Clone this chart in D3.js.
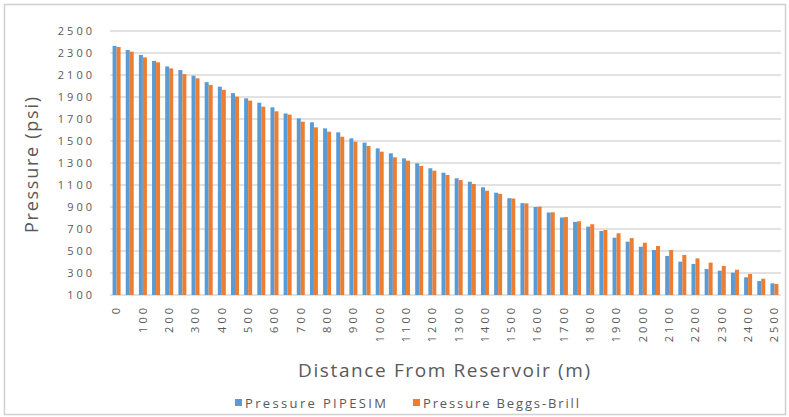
<!DOCTYPE html>
<html>
<head>
<meta charset="utf-8">
<script src="https://cdn.jsdelivr.net/npm/d3@7"></script>
<style>
  html, body { margin: 0; padding: 0; background: #fff; }
  svg { display: block; }
  text { font-family: "Open Sans", "Liberation Sans", sans-serif; fill: #595959; }
</style>
</head>
<body>
<svg id="chart" width="789" height="417"></svg>
<script>
// Distance along the pipeline (m), one category every 50 m
const distances = [0,50,100,150,200,250,300,350,400,450,500,550,600,650,700,750,800,850,900,950,
  1000,1050,1100,1150,1200,1250,1300,1350,1400,1450,1500,1550,1600,1650,1700,1750,1800,1850,1900,1950,
  2000,2050,2100,2150,2200,2250,2300,2350,2400,2450,2500];

// Pressure from PIPESIM (psi)
const pressurePipesim = [2365,2327,2282,2228,2178,2145,2094,2035,1994,1935,1888,1848,1806,1750,1706,1670,1615,1579,1524,1485,
  1433,1388,1342,1297,1252,1212,1161,1130,1079,1030,980,935,900,850,805,765,721,682,621,585,
  539,509,455,403,382,336,321,303,261,227,206];

// Pressure from Beggs-Brill correlation (psi)
const pressureBeggsBrill = [2355,2312,2260,2215,2160,2108,2070,2010,1965,1903,1867,1812,1770,1740,1676,1624,1585,1539,1494,1455,
  1403,1352,1321,1273,1230,1191,1145,1109,1048,1020,977,933,903,852,808,770,743,691,661,617,
  575,545,509,464,433,394,364,330,291,248,200];

const yTicks = [100,300,500,700,900,1100,1300,1500,1700,1900,2100,2300,2500];
const seriesNames = ["Pressure PIPESIM", "Pressure Beggs-Brill"];
const seriesColors = ["#5b9bd5", "#ed7d31"];

const svg = d3.select("#chart");

// chart frame
svg.append("rect")
  .attr("x", 4.5).attr("y", 4.5).attr("width", 781).attr("height", 410)
  .attr("fill", "#fff").attr("stroke", "#d0d0d0").attr("stroke-width", 1.5);

const plot = { left: 110, right: 781, top: 31, bottom: 295 };

const x = d3.scaleBand().domain(distances).range([plot.left, plot.right]).paddingInner(0).paddingOuter(0);
const y = d3.scaleLinear().domain([100, 2500]).range([plot.bottom, plot.top]);

// horizontal gridlines
svg.append("g")
  .selectAll("line").data(yTicks).join("line")
  .attr("x1", plot.left).attr("x2", plot.right)
  .attr("y1", d => y(d)).attr("y2", d => y(d))
  .attr("stroke", "#d9d9d9").attr("stroke-width", 1.5);

// y axis labels
const yAxis = svg.append("g")
  .attr("transform", `translate(${plot.left},0)`)
  .call(d3.axisLeft(y).tickValues(yTicks).tickSize(0).tickPadding(0).tickFormat(d3.format("d")));
yAxis.select(".domain").remove();
yAxis.selectAll("text")
  .attr("x", -15)
  .style("font-size", "11px")
  .style("letter-spacing", "3px")
  .attr("fill", "#595959");

// grouped bars
const barW = 4;
const groups = svg.append("g").selectAll("g").data(distances).join("g")
  .attr("transform", d => `translate(${x(d) + x.bandwidth() / 2},0)`);

[pressurePipesim, pressureBeggsBrill].forEach((vals, s) => {
  groups.append("rect")
    .attr("x", s === 0 ? -barW : 0)
    .attr("width", barW)
    .attr("y", (d, i) => y(vals[i]))
    .attr("height", (d, i) => y(100) - y(vals[i]))
    .attr("fill", seriesColors[s]);
});

// x axis labels (every other category)
const xAxis = svg.append("g")
  .attr("transform", `translate(0,${plot.bottom})`)
  .call(d3.axisBottom(x).tickValues(distances.filter((d, i) => i % 2 === 0)).tickSize(0).tickPadding(0));
xAxis.select(".domain").remove();
xAxis.selectAll("text")
  .attr("transform", "rotate(-90)")
  .attr("x", -10)
  .attr("y", 0)
  .attr("dy", "0.35em")
  .attr("text-anchor", "end")
  .style("font-size", "11px")
  .style("letter-spacing", "3px")
  .attr("fill", "#595959");

// axis titles
svg.append("text")
  .attr("transform", "translate(38,165) rotate(-90)")
  .attr("text-anchor", "middle")
  .attr("textLength", 136).attr("lengthAdjust", "spacing")
  .style("font-size", "18px")
  .text("Pressure (psi)");

svg.append("text")
  .attr("x", 298).attr("y", 377)
  .attr("textLength", 292).attr("lengthAdjust", "spacing")
  .style("font-size", "19px")
  .text("Distance From Reservoir (m)");

// legend
const legendItems = [
  { name: seriesNames[0], color: seriesColors[0], x: 235, len: 141 },
  { name: seriesNames[1], color: seriesColors[1], x: 413, len: 156 }
];
const legend = svg.append("g").selectAll("g").data(legendItems).join("g")
  .attr("transform", d => `translate(${d.x},399)`);
legend.append("rect").attr("width", 7).attr("height", 7).attr("fill", d => d.color);
legend.append("text")
  .attr("x", 10).attr("y", 8.5)
  .attr("textLength", d => d.len).attr("lengthAdjust", "spacing")
  .style("font-size", "13px")
  .text(d => d.name);
</script>
</body>
</html>
